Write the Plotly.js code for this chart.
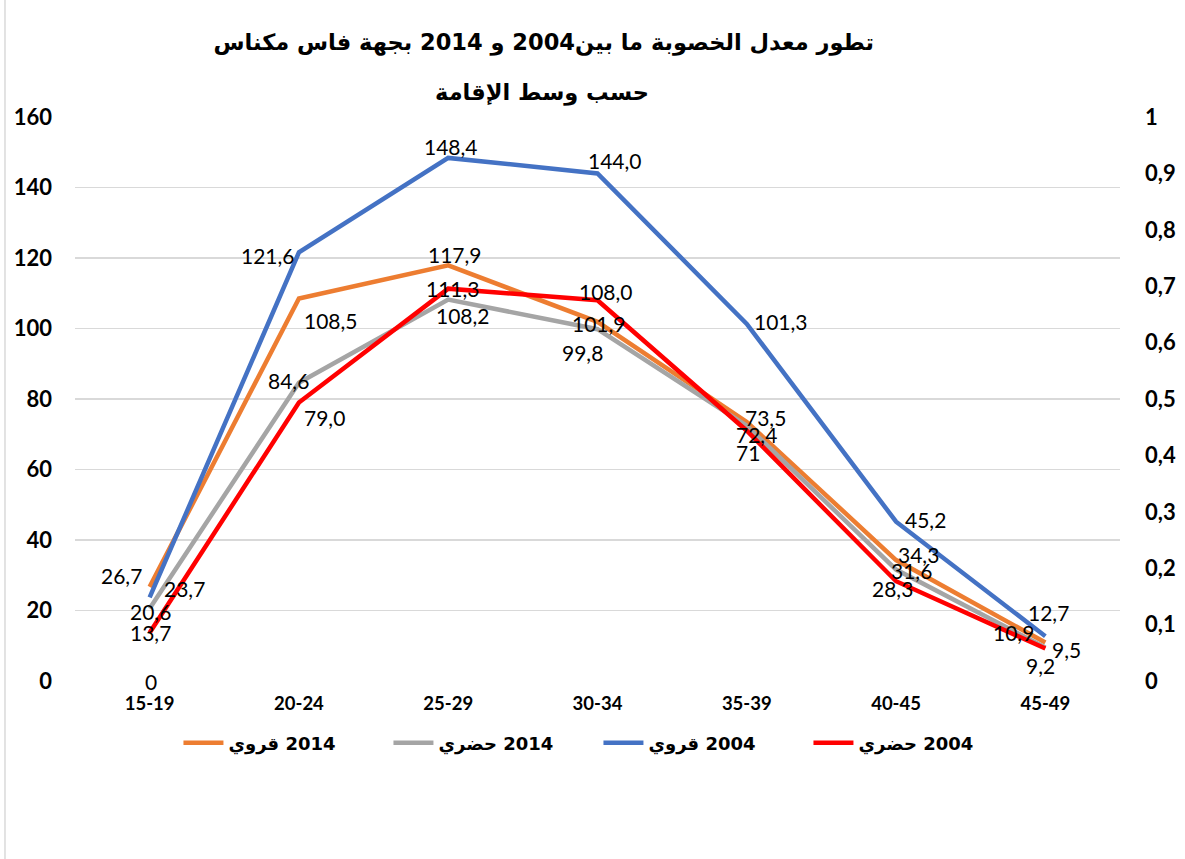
<!DOCTYPE html>
<html>
<head>
<meta charset="utf-8">
<script src="https://cdn.plot.ly/plotly-3.0.1.min.js"></script>
<style>html,body{margin:0;padding:0;background:#fff;}#chart{width:1185px;height:859px;}</style>
</head>
<body>
<div id="chart"></div>
<script>
var categories = ['15-19','20-24','25-29','30-34','35-39','40-45','45-49'];
var rural2014 = [26.7,108.5,117.9,101.9,73.5,34.3,10.9];
var urban2014 = [20.6,84.6,108.2,99.8,72.4,31.6,9.5];
var rural2004 = [23.7,121.6,148.4,144.0,101.3,45.2,12.7];
var urban2004 = [13.7,79.0,111.3,108.0,71,28.3,9.2];
var urban2004Decimals = [1,1,1,1,0,1,1];
var zeroSeries = [0];
var seriesNames = ['2014 قروي','2014 حضري','2004 قروي','2004 حضري'];
var titleLine1 = 'تطور معدل الخصوبة ما بين2004 و 2014 بجهة فاس مكناس';
var titleLine2 = 'حسب وسط الإقامة';

var colors = ['#ED7D31','#A5A5A5','#4472C4','#FF0000'];
var seriesValues = [rural2014, urban2014, rural2004, urban2004];
var seriesDecimals = [null, null, null, urban2004Decimals];
// label offsets in pixels (style only)
var labelDx = [
  [-28, 32, 7, 1, 19, 22, -32],
  [1, -10, 15, -15, 10, 15, 21],
  [35, -31, 3, 17, 34, 29, 3],
  [1, 26, 5, 8, 1, -4, -5]
];
var labelDy = [
  [11, -22, 11, -2, 4, 6, 10],
  [-3, 2, -16, -23, -9, -1, -2],
  [9, -3, 11, 13, 2, 2, 24],
  [0, -15, 0, 9, -22, -7, -17]
];

function fmt(v, d){ return v.toFixed(d).replace('.', ','); }

var labelFont = {family:'Lato, "Liberation Sans", sans-serif', size:21, color:'#000'};
var data = [];
var annotations = [];
for (var s = 0; s < 4; s++) {
  data.push({type:'scatter', mode:'lines', name:'\u202B' + seriesNames[s] + '\u202C', x:categories, y:seriesValues[s],
    line:{color:colors[s], width:4.5}, hoverinfo:'skip'});
  for (var i = 0; i < categories.length; i++) {
    var d = seriesDecimals[s] ? seriesDecimals[s][i] : 1;
    annotations.push({x:categories[i], y:seriesValues[s][i], xref:'x', yref:'y', text:fmt(seriesValues[s][i], d),
      showarrow:false, xanchor:'center', yanchor:'middle', xshift:labelDx[s][i], yshift:labelDy[s][i], font:labelFont});
  }
}
data.push({type:'scatter', mode:'markers', x:[categories[0]], y:zeroSeries, yaxis:'y2', showlegend:false,
  marker:{opacity:0}, hoverinfo:'skip'});
annotations.push({x:categories[0], y:zeroSeries[0], xref:'x', yref:'y2', text:String(zeroSeries[0]), showarrow:false,
  xanchor:'center', yanchor:'middle', xshift:1, yshift:0, font:labelFont});
annotations.push({text:'<b>'+titleLine2+'</b>', xref:'paper', yref:'paper', x:0.447, y:1.0443, xanchor:'center', yanchor:'middle', showarrow:false,
  font:{family:'"DejaVu Sans", "Noto Sans", sans-serif', size:22.5, color:'#000'}});

var layout = {
  width:1185, height:859,
  paper_bgcolor:'#fff', plot_bgcolor:'#fff',
  separators:', ',
  margin:{l:75, r:65, t:117, b:178},
  title:{text:'<b>'+titleLine1+'</b>', x:0.4588, xanchor:'center', y:0.951, yanchor:'middle', yref:'container', xref:'container',
    font:{family:'"DejaVu Sans", "Noto Sans", sans-serif', size:22.5, color:'#000'}},
  annotations:annotations,
  shapes:[{type:'line', xref:'paper', yref:'paper', x0:-0.067, x1:-0.067, y0:-0.3156, y1:1.2074, line:{color:'#D9D9D9', width:1.5}}],
  xaxis:{type:'category', showgrid:false, zeroline:false, showline:false, ticks:'',
    tickfont:{family:'Lato, "Liberation Sans", sans-serif', size:18.5, color:'#000', weight:'bold'}, ticklabelstandoff:9, range:[-0.5,6.5]},
  yaxis:{range:[0,160], dtick:20, showgrid:true, gridcolor:'#D9D9D9', gridwidth:1.5, zeroline:false, showline:false, ticks:'',
    tickfont:{family:'Lato, "Liberation Sans", sans-serif', size:22, color:'#000', weight:'bold'}, ticklabelstandoff:22},
  yaxis2:{range:[0,1], dtick:0.1, overlaying:'y', side:'right', showgrid:false, zeroline:false, showline:false, ticks:'',
    tickfont:{family:'Lato, "Liberation Sans", sans-serif', size:22, color:'#000', weight:'bold'}, ticklabelstandoff:24},
  showlegend:true,
  legend:{orientation:'h', x:0.099, xanchor:'left', y:-0.11, yanchor:'middle', traceorder:'normal',
    font:{family:'"DejaVu Sans", "Noto Sans", sans-serif', size:18, color:'#000', weight:'bold'},
    itemwidth:40, entrywidth:155, entrywidthmode:'pixels'}
};
Plotly.newPlot('chart', data, layout, {displayModeBar:false, staticPlot:true});
</script>
</body>
</html>
